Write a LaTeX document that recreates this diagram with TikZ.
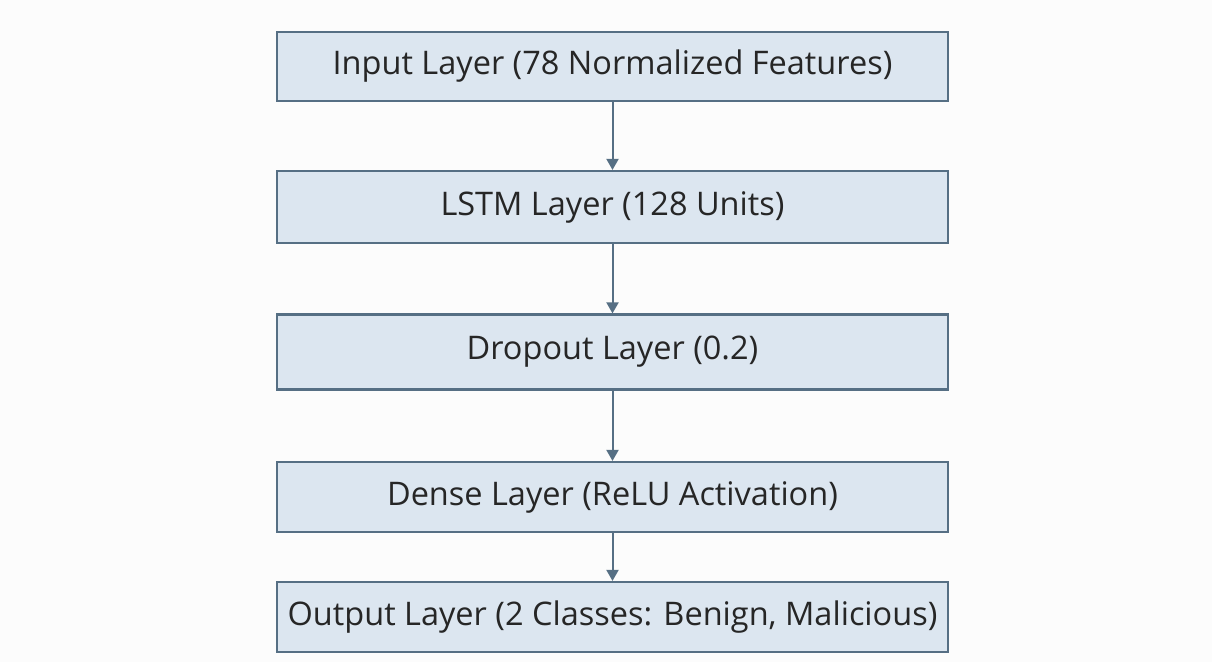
\documentclass[tikz,border=0pt]{standalone}
\usepackage{fontspec}
\setmainfont{Open Sans}
\usetikzlibrary{arrows.meta}
\definecolor{boxfill}{HTML}{DCE6F0}
\definecolor{boxedge}{HTML}{566F84}
\definecolor{txt}{HTML}{262626}
\begin{document}
\begin{tikzpicture}[x=1pt,y=-1pt,
  layerbox/.style={draw=boxedge, line width=2.2pt, fill=boxfill, text=txt,
    minimum width=671pt, inner sep=0pt, font=\fontsize{32.5}{38}\selectfont},
  flow/.style={draw=boxedge, line width=2pt, -{Triangle[length=11pt,width=12pt]}}]
\fill[white!99!black] (0,0) rectangle (1212,662);
\node[layerbox, minimum height=69pt] (in) at (612.5,66.5) {Input Layer (78 Normalized Features)};
\node[layerbox, minimum height=72pt] (lstm) at (612.5,207) {LSTM Layer (128 Units)};
\node[layerbox, minimum height=75pt] (drop) at (612.5,352) {Dropout Layer (0.2)};
\node[layerbox, minimum height=70pt] (dense) at (612.5,497) {Dense Layer (ReLU Activation)};
\node[layerbox, minimum height=70pt] (out) at (612.5,617) {Output Layer (2 Classes: Benign, Malicious)};
\draw[flow] (in) -- (lstm);
\draw[flow] (lstm) -- (drop);
\draw[flow] (drop) -- (dense);
\draw[flow] (dense) -- (out);
\end{tikzpicture}
\end{document}
